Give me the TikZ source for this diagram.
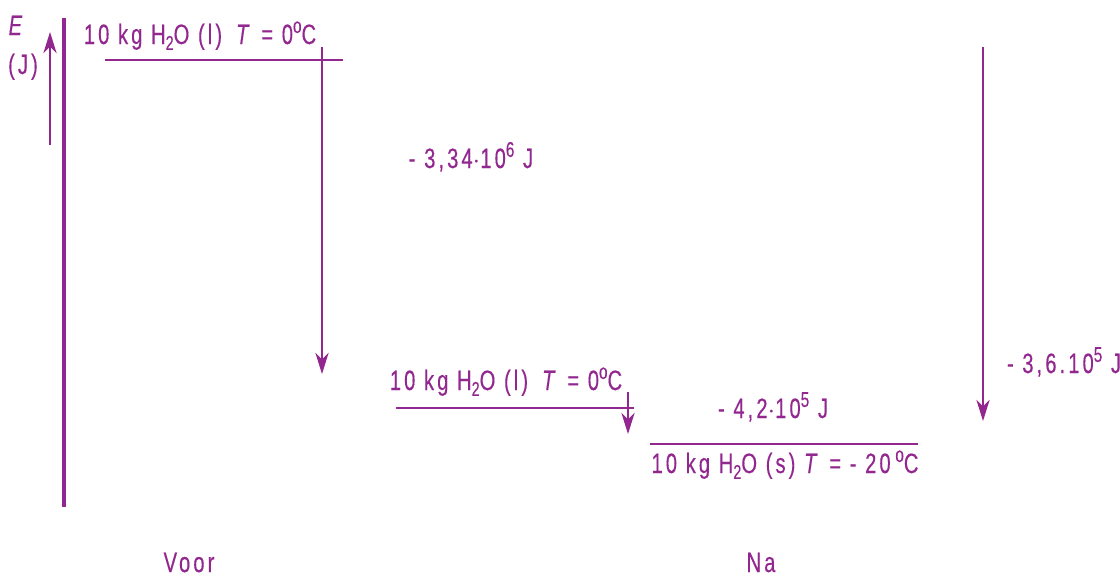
\documentclass[tikz,border=0pt]{standalone}
\usepackage{fontspec}
\setmainfont[FakeStretch=0.72,LetterSpace=11,FakeBold=0.3]{Liberation Sans}
\usetikzlibrary{arrows.meta}
\definecolor{pur}{RGB}{146,39,143}
\newcommand{\dsub}[1]{\raisebox{-0.4ex}{\fontsize{15}{15}\selectfont #1}}
\newcommand{\dsup}[1]{\raisebox{0.75ex}{\fontsize{16}{16}\selectfont #1}}
\begin{document}
\begin{tikzpicture}[x=0.75pt,y=-0.75pt,
  lbl/.style={text=pur,font=\fontsize{21}{21}\selectfont,inner sep=0pt,anchor=base},
  lvl/.style={draw=pur,line width=2pt},
  axis/.style={draw=pur,line width=2.3pt},
  thin/.style={draw=pur,line width=0.9pt,-{Stealth[length=16pt,width=10pt,inset=5pt]}}]
\useasboundingbox (0,0) rectangle (1120,576);
% axis
\draw[axis] (64,18) coordinate (axt) -- (64,507) coordinate (axb);
\coordinate (ea0) at (50,145); \coordinate (ea1) at (50,32);
\draw[thin] (ea0) -- (ea1);
\node[lbl] (E) at (17,35) {\textit{E}};
\node[lbl] (J) at (23,74) {(J)};
% levels
\draw[lvl] (105,60) coordinate (l1a) -- (343,60) coordinate (l1b);
\draw[lvl] (396,408) coordinate (l2a) -- (634,408) coordinate (l2b);
\draw[lvl] (650,444) coordinate (l3a) -- (918,444) coordinate (l3b);
\node[lbl] (t1) at (200,44) {10 kg H\dsub{2}O (l)\enspace\textit{T} = 0\dsup{o}C};
\node[lbl] (t2) at (506,390) {10 kg H\dsub{2}O (l)\enspace\textit{T} = 0\dsup{o}C};
\node[lbl] (t3) at (785,473) {10 kg H\dsub{2}O (s) \textit{T} = - 20\,\dsup{o}C};
% arrows
\coordinate (a1s) at (322,47); \coordinate (a1e) at (322,374);
\draw[thin] (a1s) -- (a1e);
\coordinate (a2s) at (628,392); \coordinate (a2e) at (628,434);
\draw[thin] (a2s) -- (a2e);
\coordinate (a3s) at (983,47); \coordinate (a3e) at (983,421);
\draw[thin] (a3s) -- (a3e);
\node[lbl] (q1) at (471,168) {- 3,34$\cdot$10\dsup{6} J};
\node[lbl] (q2) at (773,418) {- 4,2$\cdot$10\dsup{5} J};
\node[lbl] (q3) at (1064,373) {- 3,6.10\dsup{5} J};
\node[lbl] (voor) at (189,572) {Voor};
\node[lbl] (na) at (761,572) {Na};
\end{tikzpicture}
\end{document}
